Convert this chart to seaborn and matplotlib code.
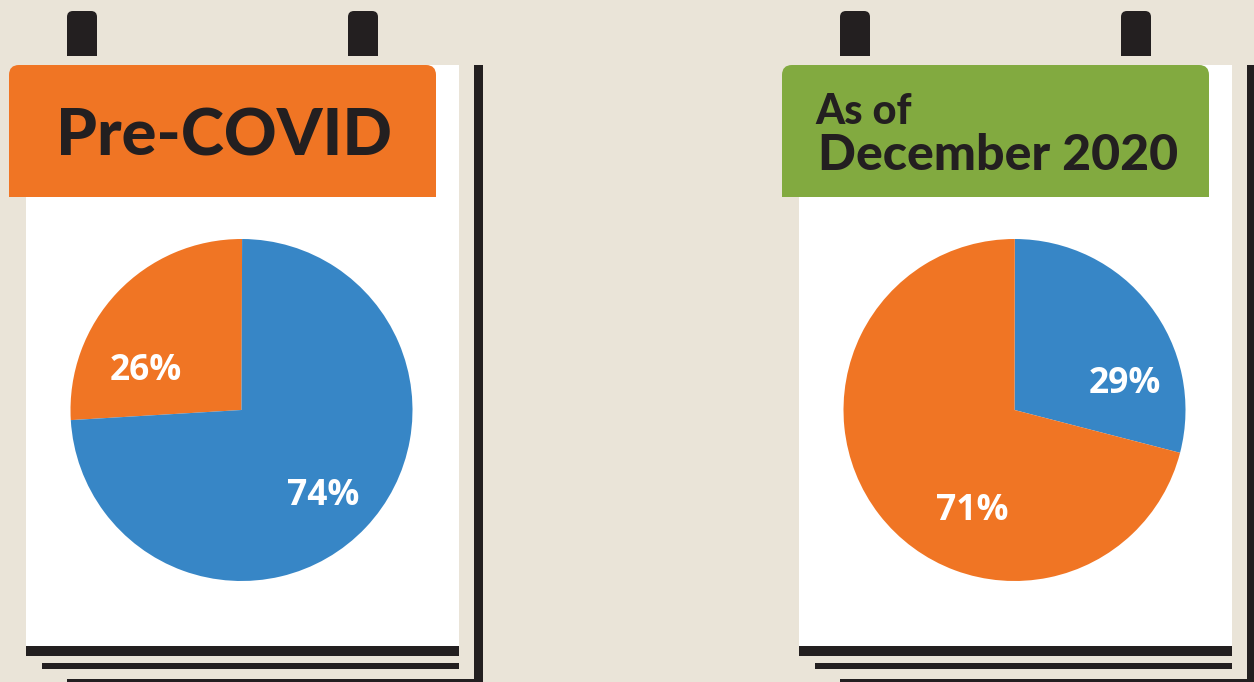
import matplotlib
matplotlib.use("Agg")
import matplotlib.pyplot as plt
from matplotlib.patches import Rectangle, FancyBboxPatch
import seaborn as sns

# Survey shares for each period (percent)
period_titles = ["Pre-COVID", "As of\nDecember 2020"]
blue_share = [74, 29]
orange_share = [26, 71]

BG = "#EAE4D8"
BLUE = "#3786C6"
ORANGE = "#F07524"
GREEN = "#82AA40"
DARK = "#231F20"
WHITE = "#FFFFFF"

sns.set_style("white")
plt.rcParams["font.family"] = ["Lato", "DejaVu Sans"]

W, H = 1254, 682
fig = plt.figure(figsize=(W / 100, H / 100), dpi=100, facecolor=BG)

# Full-canvas axes in pixel units for the calendar pages
bg = fig.add_axes([0, 0, 1, 1])
bg.set_xlim(0, W)
bg.set_ylim(H, 0)
bg.axis("off")
bg.set_facecolor(BG)


def top_rounded(ax, x0, y0, x1, y1, r, color, z):
    ax.add_patch(FancyBboxPatch((x0, y0), x1 - x0, y1 - y0,
                                boxstyle=f"round,pad=0,rounding_size={r}",
                                fc=color, ec="none", zorder=z))
    ax.add_patch(Rectangle((x0, y0 + r * 1.5), x1 - x0, y1 - y0 - r * 1.5,
                           fc=color, ec="none", zorder=z))


def page(ax, dx, header_color):
    # stacked back sheets
    ax.add_patch(Rectangle((474 + dx, 65), 9, 640, fc=DARK, ec="none", zorder=1))
    ax.add_patch(Rectangle((67 + dx, 679), 416, 10, fc=DARK, ec="none", zorder=1))
    ax.add_patch(Rectangle((42 + dx, 663), 417, 6, fc=DARK, ec="none", zorder=1))
    ax.add_patch(Rectangle((26 + dx, 646), 433, 10, fc=DARK, ec="none", zorder=1))
    # front sheet
    ax.add_patch(Rectangle((26 + dx, 65), 433, 581, fc=WHITE, ec="none", zorder=2))
    # header band
    top_rounded(ax, 9 + dx, 65, 436 + dx, 197, 10, header_color, 3)
    # binder rings
    for x in (67, 348):
        top_rounded(ax, x + dx, 11, x + 30 + dx, 56, 6, DARK, 3)


page(bg, 0, ORANGE)
page(bg, 773, GREEN)

bg.text(224, 155, period_titles[0], ha="center", va="baseline",
        fontsize=47, fontweight="black", color=DARK, zorder=5)
line1, line2 = period_titles[1].split("\n")
bg.text(815, 124, line1, ha="left", va="baseline",
        fontsize=30, fontweight="black", color=DARK, zorder=5)
bg.text(818, 170, line2, ha="left", va="baseline",
        fontsize=36, fontweight="black", color=DARK, zorder=5)


def pie_axes(cx, cy, r):
    return fig.add_axes([(cx - r) / W, (H - cy - r) / H, 2 * r / W, 2 * r / H])


def finish(ax):
    ax.set_xlim(-1, 1)
    ax.set_ylim(-1, 1)
    ax.set_aspect("equal")
    ax.axis("off")


label_font = dict(family=["Open Sans", "DejaVu Sans"], fontweight="bold",
                  fontsize=25.5, color=WHITE, ha="center", va="center")

# Pre-COVID pie
ax1 = pie_axes(241.5, 410, 171)
ax1.pie([orange_share[0], blue_share[0]], colors=[ORANGE, BLUE],
        startangle=89.8, counterclock=True, radius=1,
        wedgeprops=dict(linewidth=0))
finish(ax1)
ax1.text(-0.558, 0.228, f"{orange_share[0]}%", **label_font)
ax1.text(0.477, -0.503, f"{blue_share[0]}%", **label_font)

# December 2020 pie
ax2 = pie_axes(1014.5, 410, 171)
ax2.pie([blue_share[1], orange_share[1]], colors=[BLUE, ORANGE],
        startangle=-14.5, counterclock=True, radius=1,
        wedgeprops=dict(linewidth=0))
finish(ax2)
ax2.text(0.647, 0.152, f"{blue_share[1]}%", **label_font)
ax2.text(-0.246, -0.593, f"{orange_share[1]}%", **label_font)

fig.savefig("out.png", dpi=100, facecolor=BG)
